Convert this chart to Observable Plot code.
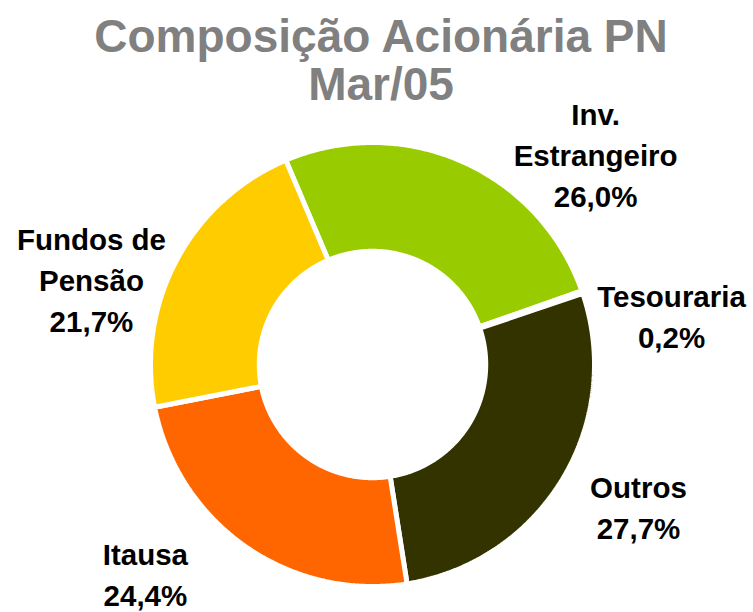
<!DOCTYPE html>
<html><head><meta charset="utf-8">
<script src="https://cdn.jsdelivr.net/npm/d3@7"></script>
<script src="https://cdn.jsdelivr.net/npm/@observablehq/plot@0.6"></script>
<style>
body{margin:0;background:#fff;}
#chart{width:753px;height:612px;}
#chart svg text{font-family:"Liberation Sans", Arial, sans-serif;}
</style>
</head><body><div id="chart"></div>
<script>
// ---- data ----
const titleLines = ["Composição Acionária PN", "Mar/05"];
const categories = ["Inv. Estrangeiro", "Tesouraria", "Outros", "Itausa", "Fundos de Pensão"];
const labelLines = [["Inv.", "Estrangeiro"], ["Tesouraria"], ["Outros"], ["Itausa"], ["Fundos de", "Pensão"]];
const shares = [26.0, 0.2, 27.7, 24.4, 21.7];
const colors = ["#99CC00", "#333300", "#333300", "#FF6600", "#FFCC00"];

// ---- layout (radius units, centre of donut = 0,0) ----
const W = 753, H = 612, CX = 372, CY = 364, R = 222;
const innerRatio = 0.51;
const startDeg = -23;
const labelAnchor = [[1.005, 0.955], [1.347, 0.225], [1.198, -0.635], [-1.023, -0.935], [-1.266, 0.392]];

const pie = d3.pie().sort(null).value(d => d.share).startAngle(startDeg * Math.PI / 180)
  .endAngle(startDeg * Math.PI / 180 + 2 * Math.PI);
const rows = categories.map((c, i) => ({cat: c, share: shares[i]}));
const arcs = pie(rows);

// polygon outline for each ring segment
const pts = [];
arcs.forEach(a => {
  const n = Math.max(2, Math.ceil((a.endAngle - a.startAngle) / (Math.PI / 360)));
  for (let k = 0; k <= n; k++) {
    const t = a.startAngle + (a.endAngle - a.startAngle) * k / n;
    pts.push({cat: a.data.cat, x: Math.sin(t), y: Math.cos(t)});
  }
  for (let k = n; k >= 0; k--) {
    const t = a.startAngle + (a.endAngle - a.startAngle) * k / n;
    pts.push({cat: a.data.cat, x: innerRatio * Math.sin(t), y: innerRatio * Math.cos(t)});
  }
});

const labels = categories.map((c, i) => ({
  text: labelLines[i].join("\n") + "\n" + shares[i].toFixed(1).replace(".", ",") + "%",
  x: labelAnchor[i][0], y: labelAnchor[i][1]
}));

const font = '"Liberation Sans", Arial, sans-serif';
const chart = Plot.plot({
  width: W, height: H, margin: 0,
  x: {domain: [-CX / R, (W - CX) / R], range: [0, W], axis: null},
  y: {domain: [-(H - CY) / R, CY / R], range: [H, 0], axis: null},
  color: {type: "ordinal", domain: categories, range: colors},
  style: {fontFamily: font, background: "#fff"},
  marks: [
    Plot.line(pts, {x: "x", y: "y", z: "cat", fill: "cat", stroke: "white", strokeWidth: 5,
      curve: "linear-closed", strokeLinejoin: "miter"}),
    Plot.text(labels, {x: "x", y: "y", text: "text", fontSize: 29.5, fontWeight: "bold", fontFamily: font,
      fill: "black", lineHeight: 1.39, lineAnchor: "middle"}),
    Plot.text([titleLines.join("\n")], {frameAnchor: "top", dx: 4, dy: 17, text: d => d, fontFamily: font,
      fontSize: 46, fontWeight: "bold", fill: "#808080", lineHeight: 1.05, lineAnchor: "top"})
  ]
});
document.getElementById("chart").appendChild(chart);
</script>
</body></html>
